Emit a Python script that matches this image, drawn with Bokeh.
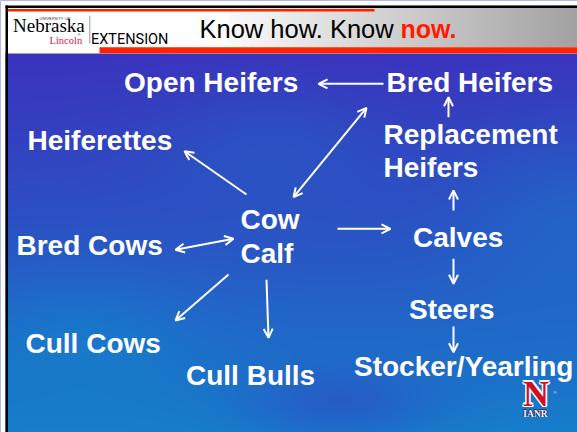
import numpy as np
from bokeh.plotting import figure
from bokeh.models import Range1d, Arrow, OpenHead, ColumnDataSource
from bokeh.core.properties import value
from bokeh.embed import file_html
from bokeh.resources import INLINE

# ---------------- data (screen coordinates of the slide, px) ----------------
label_text = ["Open Heifers", "Bred Heifers", "Heiferettes", "Replacement", "Heifers",
              "Cow", "Calf", "Bred Cows", "Calves", "Steers", "Cull Cows", "Cull Bulls",
              "Stocker/Yearling"]
label_x = [123.5, 386, 27, 383, 383, 240, 240, 16, 412.5, 408.5, 25, 185.5, 353.5]
label_y = [91.7, 91.7, 150, 144, 176.7, 229, 263, 255, 247.3, 319, 352.7, 385, 376]

# single-headed arrows (start -> end)
arr_x0 = [383, 448, 453, 246, 337, 453, 453, 228, 266]
arr_y0 = [83.3, 116.7, 210, 194, 228.3, 258.3, 326, 274, 279.3]
arr_x1 = [318, 448, 453, 184, 390, 453, 453, 175, 268]
arr_y1 = [83.3, 96.7, 190, 150.7, 228.3, 283.3, 351.7, 320, 337.3]
# double-headed arrows
dbl_x0 = [293, 233]
dbl_y0 = [196.7, 238.3]
dbl_x1 = [366, 175]
dbl_y1 = [107.3, 249.3]

title_parts = ["Know how. Know ", "now."]
title_x = [199, 400]
title_y = 37.3

W, H = 577, 432
SHIFT = 0.36  # baseline correction (em) for the svg text renderer


def fy(v):
    return [H - t for t in v] if isinstance(v, (list, tuple)) else H - v


def ty(v, size):
    # text baseline position corrected by the renderer offset
    if isinstance(v, (list, tuple)):
        return [H - (t - SHIFT * size) for t in v]
    return H - (v - SHIFT * size)


p = figure(width=W, height=H, x_range=Range1d(0, W), y_range=Range1d(0, H),
           output_backend="svg", toolbar_location=None, min_border=0,
           x_axis_location=None, y_axis_location=None)
p.grid.visible = False
p.outline_line_color = None
p.background_fill_color = "#3040c0"
p.border_fill_color = "white"

# ---------------- background (header gradient + blue field) ----------------
ys = np.arange(H)[:, None] + 0.5
xs = np.arange(W)[None, :] + 0.5
t = np.clip((ys - 53) / 379.0, 0, 1) ** 1.15
light1 = 0.2 * np.exp(-(((xs - 270) / 120.0) ** 2 + ((ys - 140) / 60.0) ** 2))
light2 = 0.25 * np.exp(-(((xs - 570) / 110.0) ** 2 + ((ys - 200) / 90.0) ** 2))
light3 = 0.2 * np.exp(-(((xs - 80) / 120.0) ** 2 + ((ys - 330) / 60.0) ** 2))
dark1 = 0.35 * np.exp(-(((xs - 340) / 90.0) ** 2 + ((ys - 405) / 35.0) ** 2))
m = np.clip(t + light1 + light2 + light3 - dark1, 0, 1)
c_top = np.array([58, 52, 190.0])
c_bot = np.array([22, 126, 204.0])
rgb = np.zeros((H, W, 3))
for k in range(3):
    rgb[..., k] = c_top[k] + (c_bot[k] - c_top[k]) * m
header = (ys < 52.7) & np.ones_like(xs, dtype=bool)
rgb[header] = 255
grad = (ys < 46.7) & (xs >= 228)
g = 250 - (xs - 228) / (577 - 228) * (250 - 162)
g = np.broadcast_to(g, (H, W))
for k in range(3):
    rgb[..., k] = np.where(grad, g, rgb[..., k])
outside = (xs < 5) | (ys < 5)
rgb[np.broadcast_to(outside, (H, W))] = 255
img = np.empty((H, W), dtype=np.uint32)
view = img.view(dtype=np.uint8).reshape((H, W, 4))
view[..., :3] = np.clip(rgb, 0, 255).astype(np.uint8)
view[..., 3] = 255
img = np.ascontiguousarray(np.flipud(img))
p.image_rgba(image=[img], x=0, y=0, dw=W, dh=H)

# frame + header bars
p.quad(left=[5, 5, 7, 99], right=[577, 7.5, 374, 577],
       top=fy([5, 5, 8.5, 46.7]), bottom=fy([7.5, 432, 11, 52.7]),
       fill_color=["black", "black", "#ff2200", "#ff2200"], line_color=None)

# logo
p.text(x=[12.5], y=[ty(32.3, 19)], text=["Nebraska"], text_font=value("Liberation Serif"),
       text_font_size="19px", text_color="black", text_baseline="alphabetic")
p.text(x=[39], y=[ty(19.5, 4)], text=["UNIVERSITY OF"], text_font=value("Liberation Sans"),
       text_font_size="4px", text_color="#333333", text_baseline="alphabetic")
p.text(x=[49], y=[ty(44, 10.5)], text=["Lincoln"], text_font=value("Liberation Serif"),
       text_font_size="10.5px", text_color="#d4213d", text_baseline="alphabetic")
p.text(x=[77], y=[ty(35, 4)], text=["®"], text_font=value("Liberation Sans"),
       text_font_size="4px", text_color="#333333", text_baseline="alphabetic")
p.segment(x0=[89.3], y0=[fy(15)], x1=[89.3], y1=[fy(43)], line_color="#9a9a9a", line_width=1)
p.text(x=[90.5], y=[ty(44.3, 14.5)], text=["EXTENSION"], text_font=value("Roboto"),
       text_font_size="14.5px", text_color="black", text_baseline="alphabetic")

# title
p.text(x=[title_x[0]], y=[ty(title_y, 25.5)], text=[title_parts[0]], text_font=value("Liberation Sans"),
       text_font_size="25.5px", text_color="black", text_baseline="alphabetic")
p.text(x=[title_x[1]], y=[ty(title_y, 25)], text=[title_parts[1]], text_font=value("Liberation Sans"),
       text_font_size="25px", text_font_style="bold", text_color="#ff1a00",
       text_baseline="alphabetic")

# labels
lab = ColumnDataSource(dict(x=label_x, y=ty(label_y, 28), text=label_text))
p.text(x="x", y="y", text="text", source=lab, text_font=value("Liberation Sans"),
       text_font_size="28px", text_font_style="bold", text_color="white",
       text_baseline="alphabetic", text_align="left")

# arrows
single = ColumnDataSource(dict(x0=arr_x0, y0=fy(arr_y0), x1=arr_x1, y1=fy(arr_y1)))
p.add_layout(Arrow(x_start="x0", y_start="y0", x_end="x1", y_end="y1", source=single,
                   line_color="white", line_width=2,
                   end=OpenHead(size=9, line_color="white", line_width=2)))
double = ColumnDataSource(dict(x0=dbl_x0, y0=fy(dbl_y0), x1=dbl_x1, y1=fy(dbl_y1)))
p.add_layout(Arrow(x_start="x0", y_start="y0", x_end="x1", y_end="y1", source=double,
                   line_color="white", line_width=2,
                   start=OpenHead(size=9, line_color="white", line_width=2),
                   end=OpenHead(size=9, line_color="white", line_width=2)))

# IANR logo
nx, ny = 535.5, 406
offs = [(-1.5, 0), (1.5, 0), (0, -1.5), (0, 1.5), (-1.1, -1.1), (1.1, 1.1), (-1.1, 1.1), (1.1, -1.1)]
p.text(x=[nx + dx for dx, dy in offs], y=[ty(ny + dy, 36) for dx, dy in offs], text=["N"] * len(offs),
       text_font=value("Liberation Serif"), text_font_size="36px", text_font_style="bold",
       text_color="white", text_align="center", text_baseline="alphabetic")
p.text(x=[nx], y=[ty(ny, 36)], text=["N"], text_font=value("Liberation Serif"),
       text_font_size="36px", text_font_style="bold", text_color="#d0101e",
       text_align="center", text_baseline="alphabetic")
offs2 = [(-0.7, 0), (0.7, 0), (0, -0.7), (0, 0.7)]
p.text(x=[535 + dx for dx, dy in offs2], y=[ty(416.7 + dy, 9.5) for dx, dy in offs2], text=["IANR"] * 4,
       text_font=value("Liberation Serif"), text_font_size="9.5px", text_font_style="bold",
       text_color="#1a1a50", text_align="center", text_baseline="alphabetic")
p.text(x=[535], y=[ty(416.7, 9.5)], text=["IANR"], text_font=value("Liberation Serif"),
       text_font_size="9.5px", text_font_style="bold", text_color="white",
       text_align="center", text_baseline="alphabetic")
p.text(x=[553], y=[ty(393, 4)], text=["®"], text_font=value("Liberation Sans"),
       text_font_size="4px", text_color="white", text_baseline="alphabetic")

open("out.html", "w").write(file_html(p, INLINE))
